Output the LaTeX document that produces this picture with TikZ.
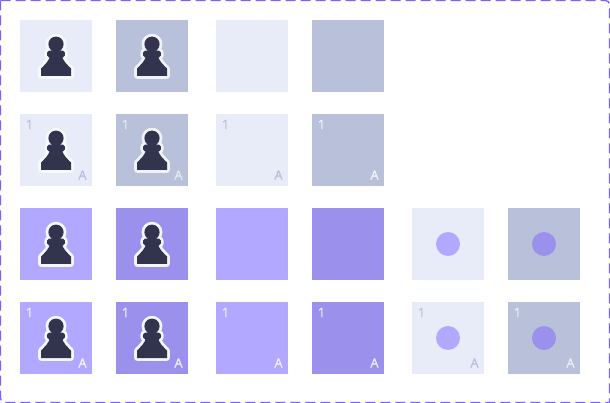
\documentclass[tikz,border=0pt]{standalone}
\usepackage{fontspec}
\setmainfont{Open Sans}
\newfontfamily\labfont[FakeBold=0.8]{Open Sans}
\definecolor{lightc}{HTML}{E8ECF9}
\definecolor{darkc}{HTML}{B8C0DA}
\definecolor{plight}{HTML}{B3A8FF}
\definecolor{pdark}{HTML}{9B91EC}
\definecolor{pawnc}{HTML}{32344D}
\definecolor{borderc}{HTML}{7B61FF}
\newcommand{\pawnshape}{
  (0,-11.8) circle[radius=7.6]
  (-8.8,-3.5) -- (-7,-5.3) -- (7,-5.3) -- (8.8,-3.5) -- (8.8,-0.5) -- (7,1.5) -- (-7,1.5) -- (-8.8,-0.5) -- cycle
  (-15,20) -- (-15,12.5) .. controls (-11,8.5) and (-7,5) .. (-6,0)
  -- (6,0) .. controls (7,5) and (11,8.5) .. (15,12.5) -- (15,20) -- cycle
}
\tikzset{
  x=1pt,y=-1pt,
  cell/.style={minimum size=72pt,inner sep=0pt,outer sep=0pt,anchor=north west},
  lab/.style={font=\labfont\fontsize{13}{13}\selectfont,inner sep=0pt,anchor=center},
  dot/.style={circle,minimum size=24pt,inner sep=0pt},
  frameline/.style={borderc,line width=1.3pt,dash pattern=on 10pt off 5pt,rounded corners=4pt},
  pawn/.pic={
    \path[draw=#1,line width=5.6pt,line join=round] \pawnshape;
    \path[fill=pawnc] \pawnshape;
  }
}
\newcommand{\labs}[3]{%
  \node[lab,text=#2,text opacity=#3] (#1n) at ([xshift=9.5pt,yshift=-10.5pt]#1.north west) {1};
  \node[lab,text=#2,text opacity=#3] (#1a) at ([xshift=-9.5pt,yshift=11pt]#1.south east) {A};
}
\begin{document}
\begin{tikzpicture}
\useasboundingbox (0,0) rectangle (610,403);
\draw[frameline] (0.5,0.5) -- (609.5,0.5) -- (609.5,402.5);
\draw[frameline] (0.5,0.5) -- (0.5,402.5) -- (609.5,402.5);
% row 1
\node[cell,fill=lightc] (a1) at (20,20) {};
\node[cell,fill=darkc] (a2) at (116,20) {};
\node[cell,fill=lightc] (a3) at (216,20) {};
\node[cell,fill=darkc] (a4) at (312,20) {};
% row 2
\node[cell,fill=lightc] (b1) at (20,114) {};
\node[cell,fill=darkc] (b2) at (116,114) {};
\node[cell,fill=lightc] (b3) at (216,114) {};
\node[cell,fill=darkc] (b4) at (312,114) {};
% row 3
\node[cell,fill=plight] (c1) at (20,208) {};
\node[cell,fill=pdark] (c2) at (116,208) {};
\node[cell,fill=plight] (c3) at (216,208) {};
\node[cell,fill=pdark] (c4) at (312,208) {};
\node[cell,fill=lightc] (c5) at (412,208) {};
\node[cell,fill=darkc] (c6) at (508,208) {};
% row 4
\node[cell,fill=plight] (d1) at (20,302) {};
\node[cell,fill=pdark] (d2) at (116,302) {};
\node[cell,fill=plight] (d3) at (216,302) {};
\node[cell,fill=pdark] (d4) at (312,302) {};
\node[cell,fill=lightc] (d5) at (412,302) {};
\node[cell,fill=darkc] (d6) at (508,302) {};
% pawns
\path (a1.center) pic {pawn={white!70!lightc}};
\path (a2.center) pic {pawn=white!80!darkc};
\path (b1.center) pic {pawn=white!70!lightc};
\path (b2.center) pic {pawn=white!80!darkc};
\path (c1.center) pic {pawn=white!90!plight};
\path (c2.center) pic {pawn=white!90!pdark};
\path (d1.center) pic {pawn=white!90!plight};
\path (d2.center) pic {pawn=white!90!pdark};
% dots
\node[dot,fill=plight] (c5d) at (c5.center) {};
\node[dot,fill=pdark] (c6d) at (c6.center) {};
\node[dot,fill=plight] (d5d) at (d5.center) {};
\node[dot,fill=pdark] (d6d) at (d6.center) {};
% labels
\labs{b1}{darkc}{1}
\labs{b2}{white}{0.6}
\labs{b3}{darkc}{1}
\labs{b4}{white}{0.8}
\labs{d1}{white}{0.8}
\labs{d2}{white}{0.8}
\labs{d3}{white}{0.8}
\labs{d4}{white}{0.8}
\labs{d5}{darkc}{1}
\labs{d6}{white}{0.7}
\end{tikzpicture}
\end{document}
